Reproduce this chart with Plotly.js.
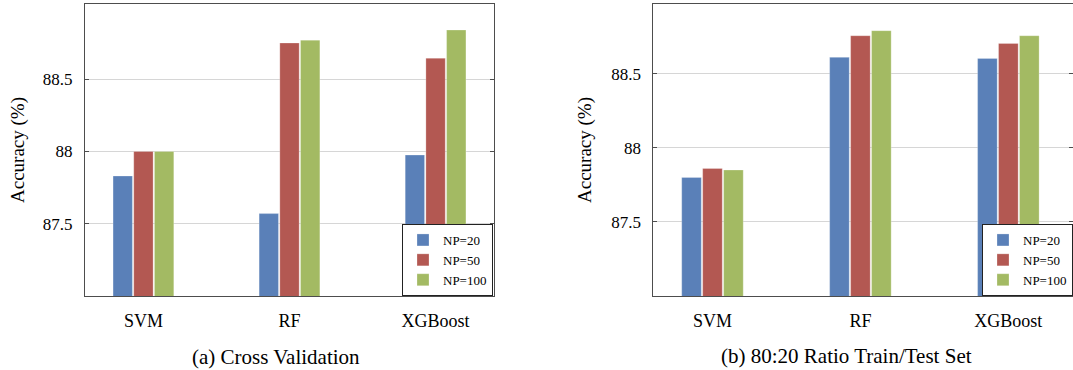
<!DOCTYPE html>
<html>
<head>
<meta charset="utf-8">
<script src="https://cdn.plot.ly/plotly-3.0.1.min.js"></script>
<style>html,body{margin:0;padding:0;background:#fff;}#chart{width:1073px;height:370px;}</style>
</head>
<body>
<div id="chart"></div>
<script>
const categories = ["SVM", "RF", "XGBoost"];
const seriesNames = ["NP=20", "NP=50", "NP=100"];
const cvNP20 = [87.83, 87.57, 87.975];
const cvNP50 = [88.0, 88.75, 88.645];
const cvNP100 = [88.0, 88.77, 88.84];
const ttNP20 = [87.80, 88.61, 88.603];
const ttNP50 = [87.86, 88.756, 88.704];
const ttNP100 = [87.85, 88.79, 88.756];
const yTickVals = [87.5, 88, 88.5];
const yTickText = ["87.5", "88", "88.5"];
const colors = ["#5a80b8", "#b35852", "#a3ba63"];
const titleA = "(a) Cross Validation";
const titleB = "(b) 80:20 Ratio Train/Test Set";
const yTitle = "Accuracy (%)";

const FONT = "Liberation Serif, DejaVu Serif, serif";
const W = 1073, H = 370;
const px = v => v / W;
const py = v => (H - v) / H;

const cvData = [cvNP20, cvNP50, cvNP100];
const ttData = [ttNP20, ttNP50, ttNP100];
const traces = [];
cvData.forEach((vals, i) => traces.push({
  type: "bar", x: categories, y: vals, name: seriesNames[i],
  marker: {color: colors[i], line: {color: "rgba(255,255,255,0.5)", width: 0.5}},
  xaxis: "x", yaxis: "y", legend: "legend"
}));
ttData.forEach((vals, i) => traces.push({
  type: "bar", x: categories, y: vals, name: seriesNames[i],
  marker: {color: colors[i], line: {color: "rgba(255,255,255,0.5)", width: 0.5}},
  xaxis: "x2", yaxis: "y2", legend: "legend2"
}));

const axisCommon = {
  showline: true, linecolor: "#4d4d4d", linewidth: 1, mirror: "ticks",
  zeroline: false, fixedrange: true
};
const xCommon = Object.assign({}, axisCommon, {
  type: "category", ticks: "", showgrid: false,
  tickfont: {family: FONT, size: 18, color: "#000"}, ticklabelstandoff: 8
});
const yCommon = Object.assign({}, axisCommon, {
  tickvals: yTickVals, ticktext: yTickText, ticks: "inside", ticklen: 4,
  tickcolor: "#4d4d4d", showgrid: true, gridcolor: "#d6d6d6", gridwidth: 1,
  tickfont: {family: FONT, size: 17, color: "#000"}, ticklabelstandoff: 8
});

const legendCommon = {
  bordercolor: "#222", borderwidth: 1, bgcolor: "#fff",
  font: {family: FONT, size: 13, color: "#000"},
  yanchor: "bottom", xanchor: "right", tracegroupgap: 0, itemwidth: 30
};

const layout = {
  width: W, height: H, margin: {l: 0, r: 0, t: 0, b: 0},
  paper_bgcolor: "#fff", plot_bgcolor: "#fff",
  barmode: "group", bargap: 0.575, bargroupgap: 0.065,
  font: {family: FONT, color: "#000"},
  xaxis: Object.assign({}, xCommon, {domain: [px(85), px(494)], range: [-0.4, 2.4], anchor: "y"}),
  yaxis: Object.assign({}, yCommon, {domain: [py(296), py(4)], range: [87, 89.02], anchor: "x"}),
  xaxis2: Object.assign({}, xCommon, {domain: [px(653.3), 1], range: [-0.4, 2.437], anchor: "y2"}),
  yaxis2: Object.assign({}, yCommon, {domain: [py(296), py(4)], range: [87, 88.97], anchor: "x2"}),
  legend: Object.assign({}, legendCommon, {x: px(493), y: py(296)}),
  legend2: Object.assign({}, legendCommon, {x: 1, y: py(296)}),
  showlegend: true,
  annotations: [
    {text: titleA, xref: "paper", yref: "paper", x: px(275.5), y: py(357), showarrow: false,
     font: {family: FONT, size: 21, color: "#000"}, xanchor: "center", yanchor: "middle"},
    {text: titleB, xref: "paper", yref: "paper", x: px(846.5), y: py(356), showarrow: false,
     font: {family: FONT, size: 21, color: "#000"}, xanchor: "center", yanchor: "middle"},
    {text: yTitle, xref: "paper", yref: "paper", x: px(18), y: py(150), showarrow: false, textangle: -90,
     font: {family: FONT, size: 19, color: "#000"}, xanchor: "center", yanchor: "middle"},
    {text: yTitle, xref: "paper", yref: "paper", x: px(585), y: py(150), showarrow: false, textangle: -90,
     font: {family: FONT, size: 19, color: "#000"}, xanchor: "center", yanchor: "middle"}
  ]
};

Plotly.newPlot("chart", traces, layout, {displayModeBar: false, staticPlot: true});
</script>
</body>
</html>
